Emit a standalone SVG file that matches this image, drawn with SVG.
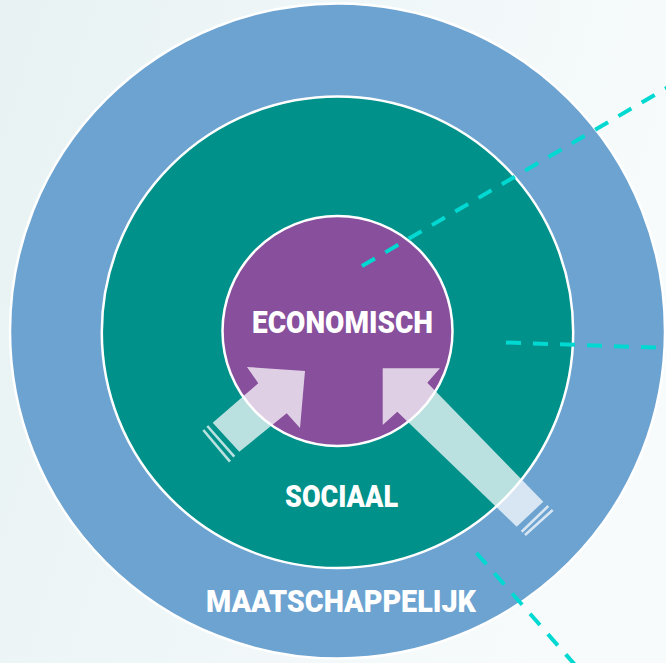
<svg xmlns="http://www.w3.org/2000/svg" width="666" height="663" viewBox="0 0 666 663">
  <defs>
    <linearGradient id="bg" x1="0" y1="0" x2="1" y2="0.3">
      <stop offset="0" stop-color="#e8f2f3"/>
      <stop offset="1" stop-color="#f7fbfc"/>
    </linearGradient>
    <style>
      .ring { stroke: #ffffff; stroke-width: 2.5; }
      .label { font-family: Roboto, "Liberation Sans", sans-serif; font-weight: 900; font-size: 32px; fill: #ffffff; text-anchor: middle; }
      .arrow { fill: #ffffff; fill-opacity: 0.73; }
      .feather { stroke: #ffffff; stroke-opacity: 0.73; stroke-width: 2.6; fill: none; }
      .dash { stroke: #00d8d2; stroke-width: 4; stroke-dasharray: 15 12; fill: none; }
    </style>
  </defs>

  <rect width="666" height="663" fill="url(#bg)"/>

  <g id="maatschappelijk">
    <circle class="ring" cx="337.5" cy="331" r="327.5" fill="#6ca3d0"/>
    <text class="label" x="341" y="612" textLength="270" lengthAdjust="spacingAndGlyphs">MAATSCHAPPELIJK</text>
  </g>

  <g id="sociaal">
    <circle class="ring" cx="337.5" cy="332.3" r="235.7" fill="#00918a"/>
    <text class="label" x="341.5" y="507" textLength="113" lengthAdjust="spacingAndGlyphs">SOCIAAL</text>
  </g>

  <g id="economisch">
    <circle class="ring" cx="337.5" cy="331" r="115" fill="#884f9c"/>
    <text class="label" x="342.5" y="333" textLength="181" lengthAdjust="spacingAndGlyphs">ECONOMISCH</text>
  </g>

  <g id="connectors">
    <!-- arrow from lower left into the core -->
    <polygon class="arrow" points="247,367 305,371 300,428 286.7,413.3 239.3,451.7 212.7,422.7 258.3,383.3"/>
    <line class="feather" x1="207.3" y1="426" x2="234.3" y2="456.7"/>
    <line class="feather" x1="203.3" y1="430" x2="230" y2="461.7"/>

    <!-- arrow from lower right into the core -->
    <polygon class="arrow" points="382.7,368.3 440,368.3 427.3,382.7 543.3,501.7 516.7,526.7 397.3,411.7 382.7,425"/>
    <line class="feather" x1="548.3" y1="506" x2="521.7" y2="531.7"/>
    <line class="feather" x1="552.7" y1="510" x2="525" y2="535"/>

    <!-- dashed leader lines -->
    <line class="dash" x1="362" y1="266" x2="670" y2="86"/>
    <line class="dash" x1="506" y1="342.5" x2="668" y2="348"/>
    <line class="dash" x1="476.5" y1="553" x2="576" y2="666"/>
  </g>
</svg>
